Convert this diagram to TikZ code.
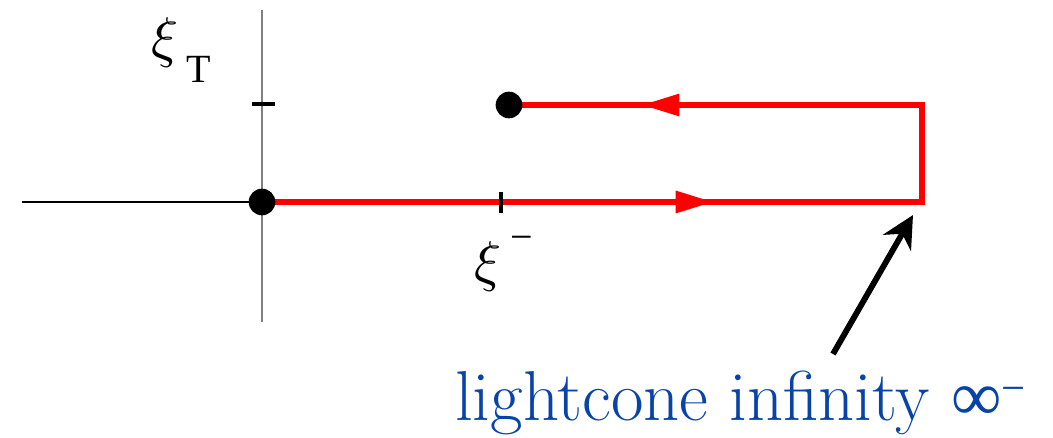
\documentclass[tikz,border=0pt]{standalone}
\usepackage{fontspec}
\usepackage{graphicx}
\newfontfamily\labfont{Liberation Serif}
\usetikzlibrary{arrows.meta}
\definecolor{lcblue}{RGB}{8,68,168}
\newcommand{\bigxi}{\scalebox{4.2}{\fontsize{10}{12}\selectfont$\xi$}}
\tikzset{
  axis/.style={line width=1.1pt},
  tick/.style={line width=3.2pt},
  contour/.style={red,line width=3.8pt,line join=miter},
  flow/.style={red,line width=3.8pt,-{Triangle[length=28pt,width=16pt]}},
  lbl/.style={font=\labfont\fontsize{30}{32}\selectfont,anchor=base west,inner sep=0pt}
}
\begin{document}
\begin{tikzpicture}[x=0.75pt,y=-0.75pt]
  \useasboundingbox (0,0) rectangle (1053,438);
  \coordinate (left) at (22,202);
  \coordinate (o) at (262,202);
  \coordinate (top) at (262,10);
  \coordinate (bot) at (262,322);
  \coordinate (inf) at (922,202);
  \coordinate (corner) at (922,105);
  \coordinate (xi) at (509,105);
  \coordinate (fwd) at (713,202);
  \coordinate (bwd) at (642,105);

  % axes
  \draw[axis] (left) -- (o);
  \draw[axis,gray] (top) -- (bot);
  \draw[tick] (252,104) -- (275,104);

  % contour
  \draw[contour] (o) -- (inf) -- (corner) -- (xi);
  \draw[flow] (o) -- (fwd);
  \draw[flow] (corner) -- (bwd);
  \draw[line width=3pt] (501,192) -- (501,213);

  \fill (o) circle (10pt);
  \fill (xi) circle (10pt);

  \node[lbl] (xiT) at (151,57) {\bigxi\hspace{6pt}\raisebox{-19pt}{T}};
  \node[lbl] (ximinus) at (474,281) {\bigxi\hspace{7pt}\raisebox{23pt}{−}};

  \node[font=\fontsize{53}{57}\selectfont,text=lcblue,anchor=base west,inner sep=0pt] (lc) at (455,420)
    {lightcone infinity {\labfont ∞\raisebox{0.55ex}{\fontsize{32}{34}\selectfont −}}};
  \draw[line width=4.4pt,-{Stealth[length=24pt,width=24pt]}] (833,354) -- (913,215);
\end{tikzpicture}
\end{document}
